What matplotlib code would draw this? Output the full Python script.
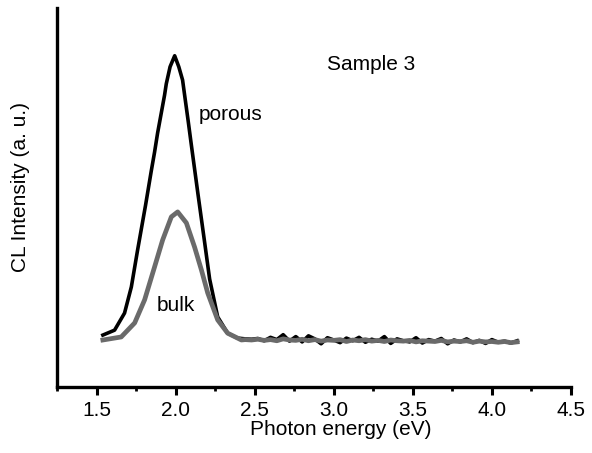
import numpy as np
import matplotlib
matplotlib.use("Agg")
import matplotlib.pyplot as plt
from matplotlib.ticker import MultipleLocator

plt.rcParams["font.family"] = ["Liberation Sans", "DejaVu Sans"]

# === Peak region ===
porous_e = [1.54, 1.614, 1.677, 1.720, 1.759, 1.81, 1.846, 1.867, 1.886, 1.930, 1.941,
            1.965, 1.994, 2.020, 2.044, 2.057, 2.080, 2.099, 2.120, 2.141, 2.184, 2.215,
            2.266, 2.329, 2.392, 2.44]
porous_i = [0.137, 0.150, 0.195, 0.264, 0.360, 0.480, 0.570, 0.620, 0.670, 0.770, 0.800,
            0.845, 0.874, 0.845, 0.810, 0.770, 0.700, 0.640, 0.575, 0.510, 0.380, 0.285,
            0.185, 0.142, 0.129, 0.127]

bulk_e = [1.54, 1.656, 1.741, 1.804, 1.867, 1.918, 1.973, 2.013, 2.068, 2.120, 2.163,
          2.203, 2.266, 2.329, 2.416, 2.44]
bulk_i = [0.124, 0.132, 0.169, 0.230, 0.317, 0.388, 0.449, 0.462, 0.433, 0.369, 0.309,
          0.248, 0.177, 0.142, 0.124, 0.125]

# === Noisy flat tail (2.48 - 4.16 eV) ===
porous_tail = [0.126, 0.128, 0.122, 0.131, 0.125, 0.138, 0.121, 0.133, 0.119, 0.135,
               0.127, 0.114, 0.130, 0.124, 0.117, 0.129, 0.122, 0.131, 0.118, 0.126,
               0.121, 0.133, 0.115, 0.127, 0.122, 0.119, 0.130, 0.116, 0.125, 0.121,
               0.128, 0.114, 0.124, 0.119, 0.127, 0.117, 0.123, 0.115, 0.125, 0.118,
               0.121, 0.116, 0.122]
bulk_tail = [0.124, 0.126, 0.123, 0.125, 0.122, 0.127, 0.124, 0.123, 0.126, 0.122,
             0.125, 0.121, 0.124, 0.123, 0.125, 0.120, 0.124, 0.122, 0.125, 0.121,
             0.123, 0.120, 0.124, 0.122, 0.121, 0.123, 0.119, 0.122, 0.121, 0.120,
             0.123, 0.119, 0.121, 0.120, 0.122, 0.118, 0.121, 0.119, 0.120, 0.118,
             0.120, 0.117, 0.119]
tail_e = np.linspace(2.48, 4.16, len(porous_tail))

porous_x = np.concatenate([porous_e, tail_e])
porous_y = np.concatenate([porous_i, porous_tail])
bulk_x = np.concatenate([bulk_e, tail_e])
bulk_y = np.concatenate([bulk_i, bulk_tail])

# === Plot ===
fig = plt.figure(figsize=(5.92, 4.53), dpi=100)
ax = fig.add_axes([0.0963, 0.1457, 0.8682, 0.8366])

ax.plot(porous_x, porous_y, color="black", lw=2.6)
ax.plot(bulk_x, bulk_y, color="#6a6a6a", lw=3.4)

ax.set_xlim(1.25, 4.5)
ax.set_ylim(0, 1)
ax.spines["top"].set_visible(False)
ax.spines["right"].set_visible(False)
ax.spines["left"].set_linewidth(2.4)
ax.spines["bottom"].set_linewidth(2.4)
ax.set_yticks([])
ax.xaxis.set_minor_locator(MultipleLocator(0.25))
ax.set_xticks([1.5, 2.0, 2.5, 3.0, 3.5, 4.0, 4.5])
ax.set_xticklabels(["1.5", "2.0", "2.5", "3.0", "3.5", "4.0", "4.5"])
ax.tick_params(axis="x", which="major", length=6, width=2.2, labelsize=15, pad=4)
ax.tick_params(axis="x", which="minor", length=3, width=2.0)

ax.text(3.237, 0.850, "Sample 3", fontsize=15, ha="center", va="center")
ax.text(2.348, 0.718, "porous", fontsize=15, ha="center", va="center")
ax.text(2.003, 0.216, "bulk", fontsize=15, ha="center", va="center")

fig.text(0.575, 0.051, "Photon energy (eV)", fontsize=15, ha="center", va="center")
fig.text(0.034, 0.588, "CL Intensity (a. u.)", fontsize=15, ha="center", va="center",
         rotation=90)

fig.savefig("out.png", dpi=100)
